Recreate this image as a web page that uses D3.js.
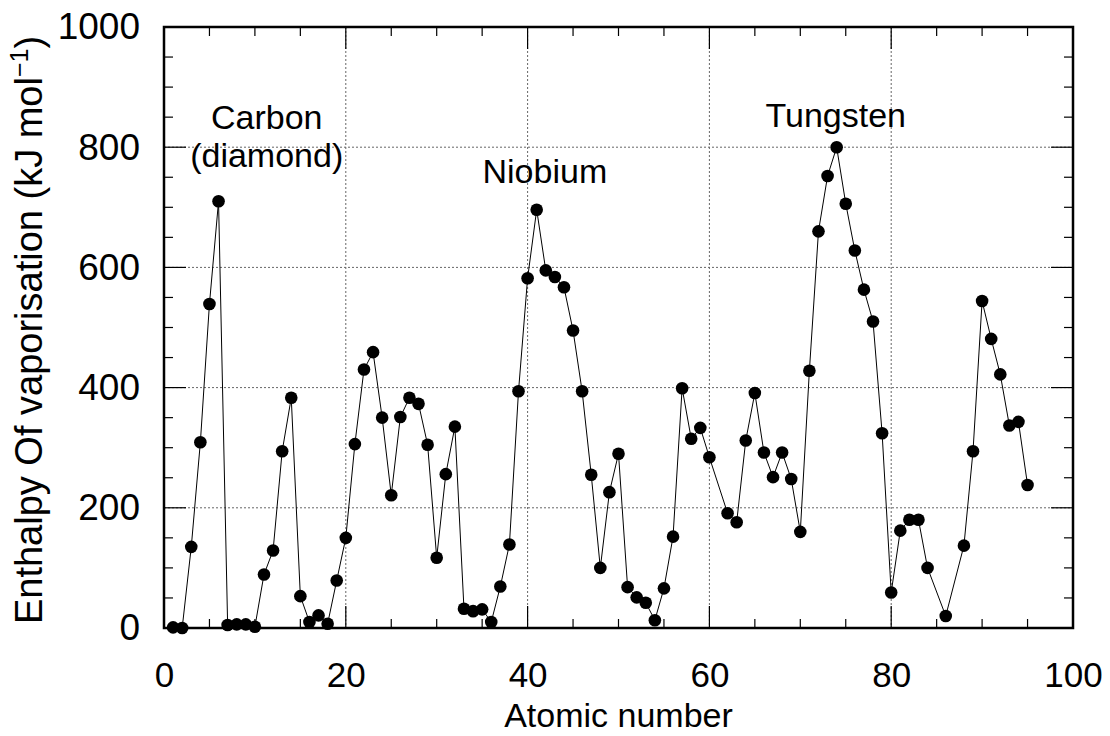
<!DOCTYPE html>
<html>
<head>
<meta charset="utf-8">
<script src="https://cdn.jsdelivr.net/npm/d3@7"></script>
<style>
  body { margin: 0; background: #fff; }
  svg text { font-family: "Liberation Sans", Arial, Helvetica, sans-serif; fill: #000; }
</style>
</head>
<body>
<div id="chart-container"></div>
<script>
// atomic numbers with a measured value (61, 85, 87 are missing in the figure)
const atomicNumbers = [
  1, 2, 3, 4, 5, 6, 7, 8, 9, 10,
  11, 12, 13, 14, 15, 16, 17, 18, 19, 20,
  21, 22, 23, 24, 25, 26, 27, 28, 29, 30,
  31, 32, 33, 34, 35, 36, 37, 38, 39, 40,
  41, 42, 43, 44, 45, 46, 47, 48, 49, 50,
  51, 52, 53, 54, 55, 56, 57, 58, 59, 60,
  62, 63, 64, 65, 66, 67, 68, 69, 70,
  71, 72, 73, 74, 75, 76, 77, 78, 79, 80,
  81, 82, 83, 84, 86, 88, 89, 90,
  91, 92, 93, 94, 95
];

// enthalpy of vaporisation, kJ/mol
const enthalpy = [
  1, 0, 135, 309, 539, 710, 5, 6, 6, 2,
  89, 129, 294, 383, 53, 10, 21, 7, 79, 150,
  306, 430, 459, 350, 221, 351, 383, 373, 305, 117,
  256, 335, 32, 28, 31, 10, 69, 139, 394, 582,
  696, 595, 584, 567, 495, 394, 255, 100, 226, 290,
  68, 51, 42, 13, 66, 152, 399, 315, 333, 284,
  191, 176, 312, 391, 292, 251, 292, 248, 160,
  428, 660, 752, 800, 706, 628, 563, 510, 324, 59,
  162, 180, 180, 100, 20, 137, 294, 544,
  481, 422, 337, 343, 238
];

const xMajorTicks = [0, 20, 40, 60, 80, 100];
const yMajorTicks = [0, 200, 400, 600, 800, 1000];

// annotation text, anchored in data units
const noteLines = [["Carbon", "(diamond)"], ["Niobium"], ["Tungsten"]];
const noteZ = [11.3, 41.9, 73.9];
const noteValue = [830, 740, 834];

const margin = { top: 27, right: 37, bottom: 108, left: 164 };
const width = 1110, height = 736;
const innerW = width - margin.left - margin.right;
const innerH = height - margin.top - margin.bottom;

const svg = d3.select("#chart-container")
  .append("svg")
  .attr("width", width)
  .attr("height", height);

const g = svg.append("g")
  .attr("transform", `translate(${margin.left},${margin.top})`);

const xScale = d3.scaleLinear().domain([0, 100]).range([0, innerW]);
const yScale = d3.scaleLinear().domain([0, 1000]).range([innerH, 0]);

// dotted grid
const grid = g.append("g").attr("class", "grid");
grid.selectAll("line.vgrid")
  .data(xMajorTicks.slice(1, -1))
  .join("line")
  .attr("class", "vgrid")
  .attr("x1", d => xScale(d)).attr("x2", d => xScale(d))
  .attr("y1", 0).attr("y2", innerH)
  .attr("stroke", "#666").attr("stroke-width", 1)
  .attr("stroke-dasharray", "2,2");

grid.selectAll("line.hgrid")
  .data(yMajorTicks.slice(1, -1))
  .join("line")
  .attr("class", "hgrid")
  .attr("x1", 0).attr("x2", innerW)
  .attr("y1", d => yScale(d)).attr("y2", d => yScale(d))
  .attr("stroke", "#666").attr("stroke-width", 1)
  .attr("stroke-dasharray", "2,2");

// inward ticks on all four sides
const minorX = d3.range(0, 101, 5);
const minorY = d3.range(0, 1001, 50);
const tickLen = d => (d % 20 === 0 ? 22 : 9);
const tickLenY = d => (d % 200 === 0 ? 22 : 9);

const ticks = g.append("g").attr("stroke", "#000").attr("stroke-width", 1.2);
ticks.selectAll(".tb").data(minorX).join("line")
  .attr("x1", d => xScale(d)).attr("x2", d => xScale(d))
  .attr("y1", innerH).attr("y2", d => innerH - tickLen(d));
ticks.selectAll(".tt").data(minorX).join("line")
  .attr("x1", d => xScale(d)).attr("x2", d => xScale(d))
  .attr("y1", 0).attr("y2", d => tickLen(d));
ticks.selectAll(".tl").data(minorY).join("line")
  .attr("x1", 0).attr("x2", d => tickLenY(d))
  .attr("y1", d => yScale(d)).attr("y2", d => yScale(d));
ticks.selectAll(".tr").data(minorY).join("line")
  .attr("x1", innerW).attr("x2", d => innerW - tickLenY(d))
  .attr("y1", d => yScale(d)).attr("y2", d => yScale(d));

// tick labels via d3 axes, without their own lines
const xAxis = d3.axisBottom(xScale).tickValues(xMajorTicks).tickFormat(d3.format("d")).tickSize(0).tickPadding(34);
const yAxis = d3.axisLeft(yScale).tickValues(yMajorTicks).tickFormat(d3.format("d")).tickSize(0).tickPadding(24);

g.append("g")
  .attr("class", "axis x-axis")
  .attr("transform", `translate(0,${innerH})`)
  .call(xAxis)
  .call(s => s.select(".domain").remove())
  .selectAll("text")
  .attr("font-size", 35)
  .attr("font-family", "Liberation Sans, Arial, sans-serif")
  .attr("fill", "#000");

g.append("g")
  .attr("class", "axis y-axis")
  .call(yAxis)
  .call(s => s.select(".domain").remove())
  .selectAll("text")
  .attr("font-size", 37)
  .attr("font-family", "Liberation Sans, Arial, sans-serif")
  .attr("fill", "#000");

// data line + markers
const points = atomicNumbers.map((z, i) => [z, enthalpy[i]]);

g.append("path")
  .datum(points)
  .attr("fill", "none")
  .attr("stroke", "#000")
  .attr("stroke-width", 1)
  .attr("d", d3.line().x(d => xScale(d[0])).y(d => yScale(d[1])));

g.selectAll(".dot")
  .data(points)
  .join("circle")
  .attr("class", "dot")
  .attr("cx", d => xScale(d[0]))
  .attr("cy", d => yScale(d[1]))
  .attr("r", 6.3)
  .attr("fill", "#000");

// frame
g.append("rect")
  .attr("width", innerW).attr("height", innerH)
  .attr("fill", "none")
  .attr("stroke", "#000")
  .attr("stroke-width", 2.5);

// annotations
noteLines.forEach((lines, i) => {
  const t = g.append("text")
    .attr("text-anchor", "middle")
    .attr("font-size", 34)
    .attr("x", xScale(noteZ[i]))
    .attr("y", yScale(noteValue[i]));
  lines.forEach((s, j) => {
    t.append("tspan")
      .attr("x", xScale(noteZ[i]))
      .attr("dy", j === 0 ? 0 : 38)
      .text(s);
  });
});

// axis titles
svg.append("text")
  .attr("x", margin.left + innerW / 2)
  .attr("y", 727)
  .attr("text-anchor", "middle")
  .attr("font-size", 34)
  .text("Atomic number");

const yTitle = svg.append("text")
  .attr("transform", `translate(42,330) rotate(-90)`)
  .attr("text-anchor", "middle")
  .attr("font-size", 38);
yTitle.append("tspan").text("Enthalpy Of vaporisation (kJ mol");
yTitle.append("tspan").attr("font-size", 25).attr("dy", -14).text("\u22121");
yTitle.append("tspan").attr("dy", 14).text(")");
</script>
</body>
</html>
